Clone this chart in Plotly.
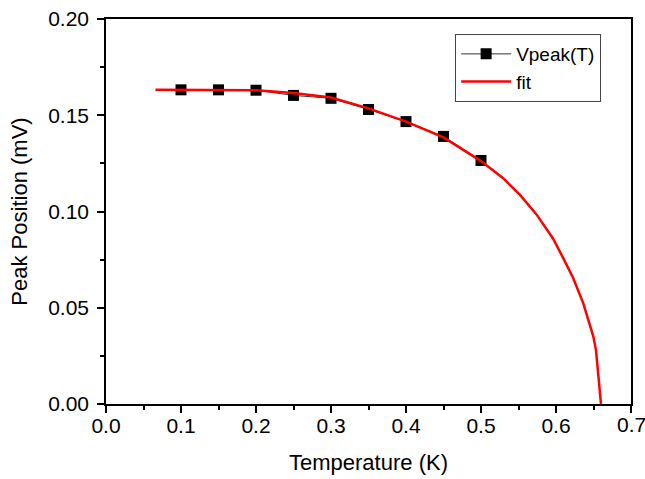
import plotly.graph_objects as go

# Measured data
temperature = [0.10, 0.15, 0.20, 0.25, 0.30, 0.35, 0.40, 0.45, 0.50]
vpeak = [0.1632, 0.1632, 0.1630, 0.1603, 0.1588, 0.1530, 0.1467, 0.1390, 0.1265]

# Fit curve
fit_t = [0.066, 0.10, 0.15, 0.20, 0.25, 0.30, 0.35, 0.40, 0.45, 0.50,
         0.530, 0.552, 0.574, 0.596, 0.610, 0.623, 0.6364, 0.6498, 0.6533, 0.660]
fit_v = [0.1632, 0.1632, 0.1632, 0.1630, 0.1615, 0.1592, 0.1536, 0.1467, 0.1385, 0.1262,
         0.1172, 0.1086, 0.0985, 0.0860, 0.0755, 0.0653, 0.0523, 0.0350, 0.0280, 0.0]

xticks = [0.0, 0.1, 0.2, 0.3, 0.4, 0.5, 0.6, 0.7]
yticks = [0.00, 0.05, 0.10, 0.15, 0.20]

fig = go.Figure()
fig.add_trace(go.Scatter(
    x=temperature, y=vpeak, name="Vpeak(T)", mode="lines+markers",
    line=dict(color="#333333", width=1),
    marker=dict(symbol="square", size=11, color="black"),
))
fig.add_trace(go.Scatter(
    x=fit_t, y=fit_v, name="fit", mode="lines",
    line=dict(color="#ff0000", width=2.5),
))

font_family = "Liberation Sans, Arial, sans-serif"
axis_common = dict(
    showline=True, linecolor="black", linewidth=1.5, mirror=True,
    ticks="outside", ticklen=7, tickwidth=1.5, tickcolor="black",
    showgrid=False, zeroline=False, automargin=False,
    tickfont=dict(family=font_family, size=21, color="black"),
)

# last x label sits on the page edge; draw it as an annotation so it is not dropped
xtext = [f"{v:.1f}" for v in xticks]
fig.update_xaxes(
    range=[0, 0.7], tickvals=xticks, ticktext=xtext[:-1] + [""],
    ticklabelstandoff=-5,
    minor=dict(tickvals=[0.05, 0.15, 0.25, 0.35, 0.45, 0.55, 0.65],
               ticks="outside", ticklen=4, tickwidth=1.5, tickcolor="black"),
    title=dict(text="Temperature (K)", font=dict(family=font_family, size=22, color="black"),
               standoff=19),
    **axis_common,
)
fig.add_annotation(
    x=xticks[-1], xref="x", y=0, yref="paper", yanchor="top",
    yshift=-7, text=xtext[-1], showarrow=False,
    font=dict(family=font_family, size=21, color="black"),
)
fig.update_yaxes(
    range=[0, 0.20], tickvals=yticks, ticktext=[f"{v:.2f}" for v in yticks],
    ticklabelstandoff=4,
    minor=dict(tickvals=[0.025, 0.075, 0.125, 0.175],
               ticks="outside", ticklen=4, tickwidth=1.5, tickcolor="black"),
    title=dict(text="Peak Position (mV)", font=dict(family=font_family, size=22, color="black"),
               standoff=14),
    **axis_common,
)

fig.update_layout(
    width=645, height=479,
    margin=dict(l=106, r=14, t=19, b=75),
    plot_bgcolor="white", paper_bgcolor="white",
    showlegend=True,
    legend=dict(
        x=0.665, y=0.961, xanchor="left", yanchor="top",
        bgcolor="white", bordercolor="#444444", borderwidth=1,
        font=dict(family=font_family, size=19, color="black"),
        tracegroupgap=0, itemwidth=50,
    ),
)

fig.write_html(
    "out.html",
    config={"displayModeBar": False},
    post_script="document.body.style.margin='0';document.body.style.overflow='hidden';",
)
